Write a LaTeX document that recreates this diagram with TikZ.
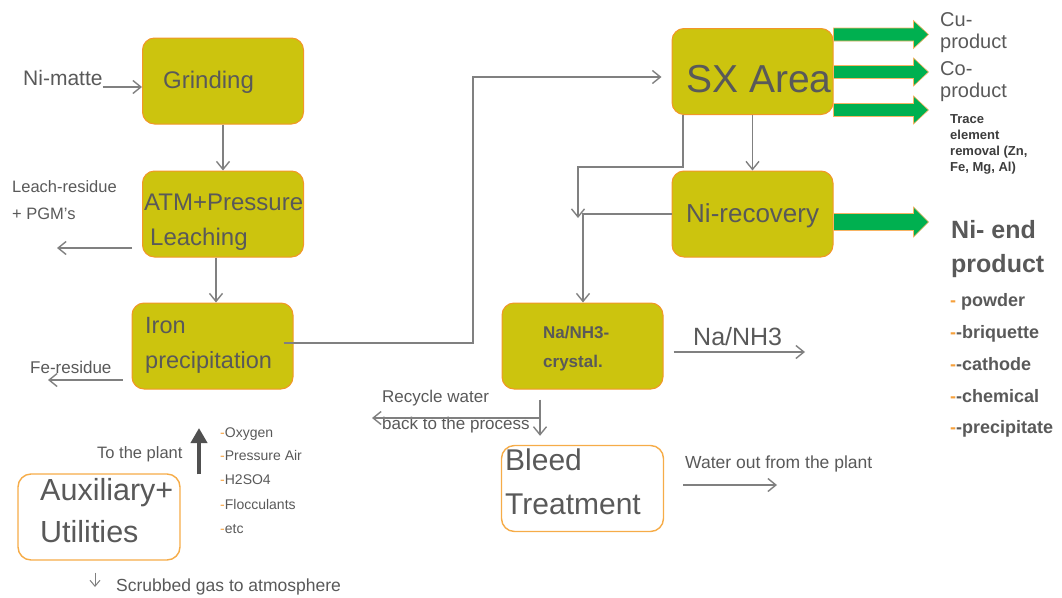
\documentclass[tikz,border=0pt]{standalone}
\usepackage{fontspec}
\setmainfont{Liberation Sans}
\usetikzlibrary{arrows.meta,calc}

\definecolor{boxfill}{RGB}{204,196,14}
\definecolor{boxedge}{RGB}{242,150,40}
\definecolor{utiledge}{RGB}{246,172,72}
\definecolor{txt}{RGB}{89,89,89}
\definecolor{darktxt}{RGB}{60,60,60}
\definecolor{flow}{RGB}{128,128,128}
\definecolor{prodgreen}{RGB}{0,176,80}
\definecolor{dashor}{RGB}{245,160,60}

\newcommand{\fs}[1]{\fontsize{#1}{#1}\selectfont}
\newcommand{\od}{\textcolor{dashor}{-}}
\newcommand{\halfshaft}{6.5}
\newcommand{\halfhead}{14}

\tikzset{
  stage/.style={draw=boxedge, fill=boxfill, rounded corners=12pt, line width=1pt,
    minimum width=161pt, minimum height=86pt, inner sep=0pt},
  utilbox/.style={draw=utiledge, fill=white, rounded corners=13pt, line width=1.4pt,
    minimum width=162pt, minimum height=86pt, inner sep=0pt},
  lbl/.style={anchor=base west, inner sep=0pt, text=txt},
  flowline/.style={draw=flow, line width=1.4pt, -{Straight Barb[length=8pt,width=13pt]}},
  utilarrow/.style={draw=darktxt!90, line width=4pt, -{Triangle[length=15pt,width=16pt]}},
  prodarrow/.pic={
    \filldraw[fill=prodgreen, draw=dashor!80, line width=0.6pt]
      (0,-\halfshaft) -- (80,-\halfshaft) -- (80,-\halfhead) -- (95,0)
      -- (80,\halfhead) -- (80,\halfshaft) -- (0,\halfshaft) -- cycle;
  }
}

\begin{document}
\begin{tikzpicture}[x=1pt,y=-1pt]
\useasboundingbox (0,0) rectangle (1062,597);

% ---- process stages ----
\node[stage] (grind) at (223,81) {};
\node[stage] (atm) at (223,214) {};
\node[stage] (iron) at (212.5,346) {};
\node[stage] (sx) at (752.5,71.5) {};
\node[stage] (nirec) at (752.5,214) {};
\node[stage] (nacry) at (582.5,346) {};
\node[utilbox] (aux) at (99,517) {};
\node[utilbox] (bleed) at (582.5,488.5) {};

% ---- stage captions ----
\node[lbl, font=\fs{24}] (tgrind) at (163,88) {Grinding};
\node[lbl, font=\fs{24}] (tatm) at (144,210) {ATM+Pressure};
\node[lbl, font=\fs{24}] (tleach) at (150,245) {Leaching};
\node[lbl, font=\fs{23.5}] (tiron) at (145,333) {Iron};
\node[lbl, font=\fs{23.5}] (tprec) at (145,368) {precipitation};
\node[lbl, font=\fs{39}] (tsx) at (686,92) {SX Area};
\node[lbl, font=\fs{26}] (tnirec) at (686,222) {Ni-recovery};
\node[lbl, font=\bfseries\fs{17}] (tna) at (543,338) {Na/NH3-};
\node[lbl, font=\bfseries\fs{17}] (tcry) at (543,367) {crystal.};
\node[lbl, font=\fs{30.5}] (taux) at (40,500) {Auxiliary+};
\node[lbl, font=\fs{30.5}] (tutil) at (40,542) {Utilities};
\node[lbl, font=\fs{30}] (tbleed) at (505,470) {Bleed};
\node[lbl, font=\fs{30}] (ttreat) at (505,514) {Treatment};

% ---- stream labels ----
\node[lbl, font=\fs{21}] (tmatte) at (23,85) {Ni-matte};
\node[lbl, font=\fs{16.5}] (tres1) at (12,192) {Leach-residue};
\node[lbl, font=\fs{16.5}] (tres2) at (12,219) {+ PGM’s};
\node[lbl, font=\fs{17}] (tfe) at (30,373) {Fe-residue};
\node[lbl, font=\fs{16.5}] (tplant) at (97,458) {To the plant};
\node[lbl, font=\fs{14}] (tox) at (220,437) {\od Oxygen};
\node[lbl, font=\fs{14}] (tair) at (220,460) {\od Pressure Air};
\node[lbl, font=\fs{14}] (tacid) at (220,484) {\od H2SO4};
\node[lbl, font=\fs{14}] (tfloc) at (220,509) {\od Flocculants};
\node[lbl, font=\fs{14}] (tetc) at (220,533) {\od etc};
\node[lbl, font=\fs{17.5}] (tscrub) at (116,591) {Scrubbed gas to atmosphere};
\node[lbl, font=\fs{17}] (trec1) at (382,402) {Recycle water};
\node[lbl, font=\fs{17}] (trec2) at (382,429) {back to the process};
\node[lbl, font=\fs{17.5}] (twater) at (685,468) {Water out from the plant};
\node[lbl, font=\fs{25}] (tnaout) at (693,345) {Na/NH3};

% ---- products ----
\node[lbl, font=\fs{20}] (tcu1) at (940,27) {Cu-};
\node[lbl, font=\fs{20}] (tcu2) at (940,48) {product};
\node[lbl, font=\fs{20}] (tco1) at (940,75) {Co-};
\node[lbl, font=\fs{20}] (tco2) at (940,97) {product};
\node[lbl, text=darktxt, font=\bfseries\fs{13}] (ttr1) at (950,123) {Trace};
\node[lbl, text=darktxt, font=\bfseries\fs{13}] (ttr2) at (950,139) {element};
\node[lbl, text=darktxt, font=\bfseries\fs{13}] (ttr3) at (950,155) {removal (Zn,};
\node[lbl, text=darktxt, font=\bfseries\fs{13}] (ttr4) at (950,171) {Fe, Mg, Al)};
\node[lbl, font=\bfseries\fs{25}] (tni1) at (951,238) {Ni- end};
\node[lbl, font=\bfseries\fs{25}] (tni2) at (951,272) {product};
\node[lbl, font=\bfseries\fs{18}] (tl1) at (950,306) {\od{} powder};
\node[lbl, font=\bfseries\fs{18}] (tl2) at (950,338) {\od-briquette};
\node[lbl, font=\bfseries\fs{18}] (tl3) at (950,370) {\od-cathode};
\node[lbl, font=\bfseries\fs{18}] (tl4) at (950,402) {\od-chemical};
\node[lbl, font=\bfseries\fs{18}] (tl5) at (950,433) {\od-precipitate};

% ---- free ends of streams ----
\coordinate (leachEnd) at (57,248);
\coordinate (feEnd) at (48,380);
\coordinate (naEnd) at (805,352);
\coordinate (recEnd) at (372,418);
\coordinate (waterEnd) at (777,485);
\coordinate (plantEnd) at (199,428);
\coordinate (scrubEnd) at (95,587);

% ---- main flow ----
\draw[flowline] (tmatte.base east |- 0,87) -- (grind.west |- 0,87);
\draw[flowline] (grind.south) -- (atm.north);
\draw[flowline] ($(atm.west |- leachEnd)+(-10,0)$) -- (leachEnd);
\draw[flowline] (atm.south -| 216,0) -- (iron.north -| 216,0);
\draw[flowline] ($(iron.west |- feEnd)+(-9,0)$) -- (feEnd);
\draw[flowline] ($(iron.east |- 0,343)+(-10,0)$) -- (473,343) -- (473,77)
  -- ($(sx.west |- 0,77)+(-10,0)$);
\draw[flowline] (sx.south) -- (nirec.north);
\draw[flowline] (sx.south -| 683,0) -- (683,167) -- (578,167) -- (578,218);
\draw[flowline] (nirec.west) -- (583,214) -- (nacry.north -| 583,0);
\draw[flowline] ($(nacry.east |- naEnd)+(10,0)$) -- (naEnd);
\draw[flowline] ($(nacry.south -| 540,0)+(0,10)$) -- ($(bleed.north -| 540,0)+(0,-9)$);
\draw[flowline] (540,418) -- (recEnd);
\draw[flowline] ($(bleed.east |- waterEnd)+(19,0)$) -- (waterEnd);

% ---- utilities ----
\draw[utilarrow] ($(aux.north -| plantEnd)+(0,1)$) -- (plantEnd);
\draw[flowline, line width=1pt, -{Straight Barb[length=6pt,width=10pt]}]
  ($(aux.south -| scrubEnd)+(0,12)$) -- (scrubEnd);

% ---- product arrows ----
\pic at (sx.east |- 0,34.5) {prodarrow};
\pic at (sx.east |- 0,72) {prodarrow};
\pic at (sx.east |- 0,110) {prodarrow};
\renewcommand{\halfshaft}{8.5}
\renewcommand{\halfhead}{15}
\pic at (nirec.east |- 0,222) {prodarrow};
\end{tikzpicture}
\end{document}
